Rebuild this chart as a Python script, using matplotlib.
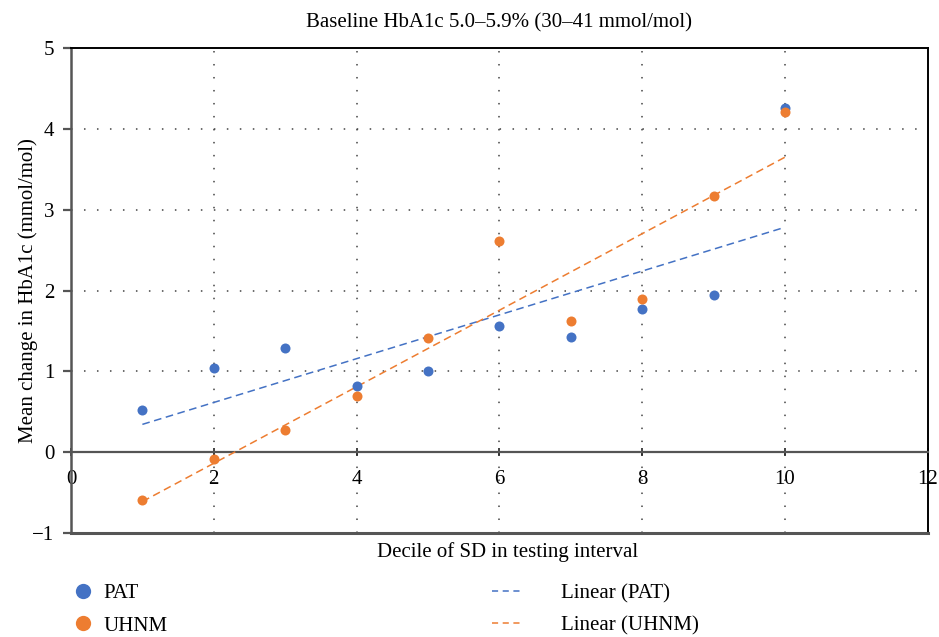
import matplotlib.pyplot as plt
from matplotlib.lines import Line2D
import numpy as np

plt.rcParams['font.family'] = ['Liberation Serif', 'DejaVu Serif']

deciles = [1, 2, 3, 4, 5, 6, 7, 8, 9, 10]
pat = [0.52, 1.04, 1.29, 0.82, 1.01, 1.56, 1.42, 1.77, 1.94, 4.26]
uhnm = [-0.59, -0.09, 0.27, 0.69, 1.41, 2.61, 1.62, 1.89, 3.17, 4.21]

blue = "#4472C4"
orange = "#ED7D31"

fig = plt.figure(figsize=(9.39, 6.37), dpi=100)
ax = fig.add_axes([0.0756, 0.1633, 0.9124, 0.7613])

ax.set_xlim(0, 12)
ax.set_ylim(-1, 5)
ax.set_xticks(range(0, 13, 2))
ax.set_yticks(range(-1, 6))

# dotted grid
for x in range(2, 11, 2):
    ax.axvline(x, color="#444444", lw=1.1, ls=(0, (1.0, 7.5)), zorder=1)
for y in range(1, 5):
    ax.axhline(y, color="#444444", lw=1.1, ls=(0, (1.0, 7.5)), zorder=1)

# x axis sits at y = 0, frame bottom at -1
ax.spines['bottom'].set_position(('data', 0))
ax.spines['bottom'].set_color("#555555")
ax.spines['bottom'].set_linewidth(1.6)
ax.axhline(-1, color="#555555", lw=2.2, clip_on=False, zorder=3)
ax.spines['left'].set_color("#555555")
ax.spines['left'].set_linewidth(1.8)
ax.spines['top'].set_color("black")
ax.spines['top'].set_linewidth(1.4)
ax.spines['right'].set_color("black")
ax.spines['right'].set_linewidth(1.4)

ax.tick_params(axis='x', direction='inout', length=6, width=1.2, color="#222222",
               labelsize=15, pad=10)
ax.tick_params(axis='y', direction='out', length=6, width=1.6, color="#555555",
               labelsize=15, pad=6)

ax.scatter(deciles, pat, s=52, color=blue, zorder=4, linewidths=0)
ax.scatter(deciles, uhnm, s=52, color=orange, zorder=4, linewidths=0)

xs = np.array(deciles)
for vals, c in [(pat, blue), (uhnm, orange)]:
    k, b = np.polyfit(xs, vals, 1)
    ax.plot([xs[0], xs[-1]], [k * xs[0] + b, k * xs[-1] + b], color=c, lw=1.1,
            ls=(0, (5, 3)), zorder=3)

ax.set_title("Baseline HbA1c 5.0–5.9% (30–41 mmol/mol)", fontsize=15, pad=15)
ax.set_ylabel("Mean change in HbA1c (mmol/mol)", fontsize=15, labelpad=-4)
fig.text(0.5405, 0.134, "Decile of SD in testing interval", fontsize=15,
         ha='center', va='center')

h1 = [Line2D([], [], marker='o', ls='none', color=blue, markersize=11, markeredgewidth=0),
      Line2D([], [], marker='o', ls='none', color=orange, markersize=11, markeredgewidth=0)]
fig.legend(h1, ["PAT", "UHNM"], loc='upper left', bbox_to_anchor=(0.068, 0.097),
           frameon=False, fontsize=15, handlelength=1.0, handletextpad=0.5,
           labelspacing=0.62, borderaxespad=0)
h2 = [Line2D([], [], color=blue, lw=1.1, ls=(0, (4, 3))),
      Line2D([], [], color=orange, lw=1.1, ls=(0, (4, 3)))]
fig.legend(h2, ["Linear (PAT)", "Linear (UHNM)"], loc='upper left',
           bbox_to_anchor=(0.515, 0.097), frameon=False, fontsize=15,
           handlelength=1.5, handletextpad=1.8, labelspacing=0.62, borderaxespad=0)

fig.savefig("out.png", dpi=100)
